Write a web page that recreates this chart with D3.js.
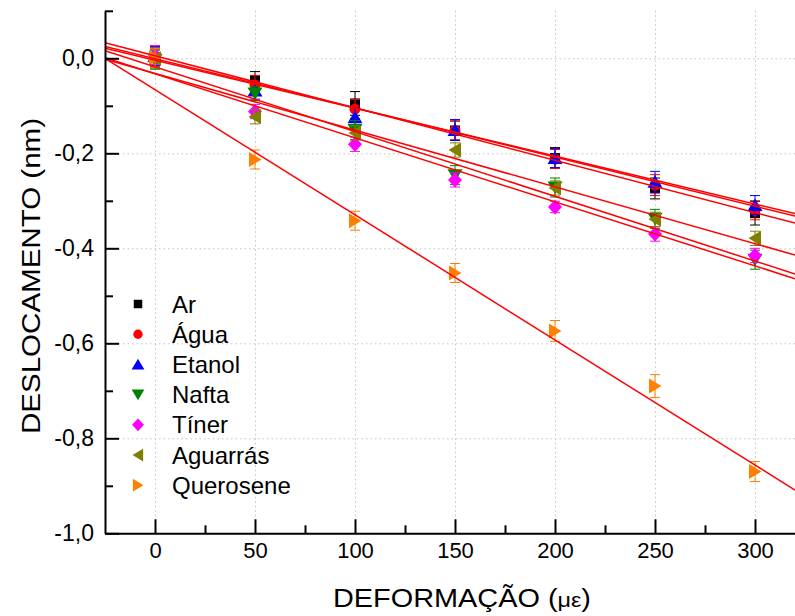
<!DOCTYPE html>
<html>
<head>
<meta charset="utf-8">
<script src="https://cdn.jsdelivr.net/npm/d3@7"></script>
<style>
  html, body { margin: 0; padding: 0; background: #fff; }
  svg text { font-family: "Liberation Sans", Arial, Helvetica, sans-serif; fill: #000; }
</style>
</head>
<body>
<svg id="chart" width="795" height="616"></svg>
<script>
// ---------------- DATA ----------------
const strain = [0, 50, 100, 150, 200, 250, 300];
const seriesNames = ["Ar", "Água", "Etanol", "Nafta", "Tíner", "Aguarrás", "Querosene"];
const seriesColors = ["#000000", "#ff0000", "#0000ff", "#008000", "#ff00ff", "#808000", "#ff8000"];
const seriesSymbols = ["square", "circle", "triUp", "triDown", "diamond", "triLeft", "triRight"];

const ar        = [0.002, -0.046, -0.095, -0.152, -0.210, -0.274, -0.326];
const agua      = [0.000, -0.056, -0.107, -0.152, -0.212, -0.267, -0.320];
const etanol    = [0.005, -0.068, -0.124, -0.151, -0.210, -0.260, -0.309];
const nafta     = [-0.003, -0.074, -0.151, -0.246, -0.272, -0.338, -0.424];
const tiner     = [0.007, -0.112, -0.181, -0.256, -0.313, -0.370, -0.415];
const aguarras  = [-0.001, -0.123, -0.157, -0.193, -0.273, -0.339, -0.379];
const querosene = [0.001, -0.213, -0.342, -0.452, -0.574, -0.690, -0.870];

const arErr        = [0.020, 0.018, 0.025, 0.020, 0.022, 0.022, 0.025];
const aguaErr      = [0.020, 0.020, 0.020, 0.020, 0.020, 0.022, 0.020];
const etanolErr    = [0.020, 0.018, 0.020, 0.022, 0.020, 0.022, 0.020];
const naftaErr     = [0.020, 0.015, 0.020, 0.020, 0.020, 0.020, 0.020];
const tinerErr     = [0.020, 0.015, 0.015, 0.015, 0.012, 0.015, 0.015];
const aguarrasErr  = [0.020, 0.015, 0.015, 0.015, 0.015, 0.015, 0.015];
const queroseneErr = [0.020, 0.020, 0.020, 0.020, 0.022, 0.024, 0.021];

// linear fits (intercept, slope)
const fitIntercept = [0.0055, -0.0009, -0.0042, -0.0181, -0.0327, -0.0319, -0.0659];
const fitSlope     = [-0.0011014, -0.0010348, -0.0010087, -0.0013623, -0.0013478, -0.0011942, -0.002635];

const xMajorTicks = [0, 50, 100, 150, 200, 250, 300];
const xMinorTicks = [25, 75, 125, 175, 225, 275];
const yMajorTicks = [0, -0.2, -0.4, -0.6, -0.8, -1.0];
const yMinorTicks = [0.1, -0.1, -0.3, -0.5, -0.7, -0.9];
const xDomain = [-25, 320];
const yDomain = [-1.0, 0.1];

const seriesValues = [ar, agua, etanol, nafta, tiner, aguarras, querosene];
const seriesErrors = [arErr, aguaErr, etanolErr, naftaErr, tinerErr, aguarrasErr, queroseneErr];

// ---------------- LAYOUT ----------------
const svg = d3.select("#chart");
const plotLeft = 105, plotRight = 795, plotBottom = 533.3, zeroY = 58.3;
const unit = plotBottom - zeroY; // pixels per 1.0
const x = d3.scaleLinear().domain(xDomain).range([plotLeft, plotRight]);
const y = d3.scaleLinear().domain(yDomain).range([plotBottom, zeroY - 0.1 * unit]);
const plotTop = y(yDomain[1]);

svg.append("defs").append("clipPath").attr("id", "clip")
  .append("rect").attr("x", plotLeft).attr("y", plotTop)
  .attr("width", plotRight - plotLeft).attr("height", plotBottom - plotTop);

// grid
const grid = svg.append("g").attr("stroke", "#c4c4c4").attr("stroke-width", 1).attr("stroke-dasharray", "1.5,3");
grid.selectAll("line.vx").data(xMajorTicks).join("line")
  .attr("x1", d => x(d) + 0.5).attr("x2", d => x(d) + 0.5)
  .attr("y1", plotTop).attr("y2", plotBottom);
grid.selectAll("line.hy").data(yMajorTicks.filter(d => d > -1)).join("line")
  .attr("x1", plotLeft).attr("x2", plotRight)
  .attr("y1", d => y(d) + 0.5).attr("y2", d => y(d) + 0.5);

// symbols
function symbolPath(type, s) {
  switch (type) {
    case "square":  return `M${-5*s},${-5*s}H${5*s}V${5*s}H${-5*s}Z`;
    case "circle":  { const r = 5.5*s; return `M${-r},0A${r},${r} 0 1,0 ${r},0A${r},${r} 0 1,0 ${-r},0Z`; }
    case "triUp":   return `M0,${-6.5*s}L${7.5*s},${6*s}L${-7.5*s},${6*s}Z`;
    case "triDown": return `M0,${6.5*s}L${7.5*s},${-6*s}L${-7.5*s},${-6*s}Z`;
    case "diamond": return `M0,${-7.5*s}L${7*s},0L0,${7.5*s}L${-7*s},0Z`;
    case "triLeft": return `M${-6.5*s},0L${6*s},${-7.5*s}L${6*s},${7.5*s}Z`;
    case "triRight":return `M${6.5*s},0L${-6*s},${-7.5*s}L${-6*s},${7.5*s}Z`;
  }
}

// series: error bars + markers
const dataLayer = svg.append("g");
seriesNames.forEach((name, i) => {
  const pts = strain.map((s, j) => ({ s, v: seriesValues[i][j], e: seriesErrors[i][j] }));
  const g = dataLayer.append("g").attr("stroke", seriesColors[i]).attr("fill", seriesColors[i]);
  const eb = g.selectAll("g.eb").data(pts).join("g").attr("stroke-width", 1);
  eb.append("line").attr("x1", d => x(d.s)).attr("x2", d => x(d.s))
    .attr("y1", d => y(d.v + d.e)).attr("y2", d => y(d.v - d.e));
  eb.append("line").attr("x1", d => x(d.s) - 5).attr("x2", d => x(d.s) + 5)
    .attr("y1", d => y(d.v + d.e)).attr("y2", d => y(d.v + d.e));
  eb.append("line").attr("x1", d => x(d.s) - 5).attr("x2", d => x(d.s) + 5)
    .attr("y1", d => y(d.v - d.e)).attr("y2", d => y(d.v - d.e));
  g.selectAll("path.m").data(pts).join("path")
    .attr("stroke", "none")
    .attr("transform", d => `translate(${x(d.s)},${y(d.v)})`)
    .attr("d", symbolPath(seriesSymbols[i], 1));
});

// fit lines
const fitLayer = svg.append("g").attr("clip-path", "url(#clip)");
seriesNames.forEach((name, i) => {
  const f = s => fitIntercept[i] + fitSlope[i] * s;
  fitLayer.append("line")
    .attr("x1", x(xDomain[0])).attr("y1", y(f(xDomain[0])))
    .attr("x2", x(xDomain[1])).attr("y2", y(f(xDomain[1])))
    .attr("stroke", "#ff0000").attr("stroke-width", 1.5);
});

// axes
const fmt = v => v.toFixed(1).replace(".", ",");
const xAxis = svg.append("g").attr("transform", `translate(0,${plotBottom})`)
  .call(d3.axisBottom(x).tickValues(xMajorTicks).tickSize(-14).tickSizeOuter(0).tickPadding(9).tickFormat(d3.format("d")));
svg.append("g").attr("transform", `translate(0,${plotBottom})`)
  .call(d3.axisBottom(x).tickValues(xMinorTicks).tickSize(-8).tickSizeOuter(0).tickFormat(""))
  .select(".domain").remove();
const yAxis = svg.append("g").attr("transform", `translate(${plotLeft},0)`)
  .call(d3.axisLeft(y).tickValues(yMajorTicks).tickSize(-14).tickSizeOuter(0).tickPadding(11).tickFormat(fmt));
svg.append("g").attr("transform", `translate(${plotLeft},0)`)
  .call(d3.axisLeft(y).tickValues(yMinorTicks).tickSize(-8).tickSizeOuter(0).tickFormat(""))
  .select(".domain").remove();

svg.selectAll(".domain").attr("stroke", "#000").attr("stroke-width", 2);
svg.selectAll(".tick line").attr("stroke", "#000").attr("stroke-width", 2);
xAxis.selectAll(".tick text").attr("font-size", 22).attr("font-family", "Liberation Sans, Arial, sans-serif");
yAxis.selectAll(".tick text").attr("font-size", 23).attr("font-family", "Liberation Sans, Arial, sans-serif");

// axis titles
const xt = svg.append("text").attr("x", 462).attr("y", 607).attr("text-anchor", "middle").attr("font-size", 26)
  .attr("textLength", 258).attr("lengthAdjust", "spacingAndGlyphs");
xt.append("tspan").text("DEFORMAÇÃO (");
xt.append("tspan").attr("font-size", 21).text("με");
xt.append("tspan").text(")");

svg.append("text")
  .attr("transform", "translate(40,276) rotate(-90)")
  .attr("text-anchor", "middle").attr("font-size", 26)
  .attr("textLength", 316).attr("lengthAdjust", "spacingAndGlyphs")
  .text("DESLOCAMENTO (nm)");

// legend
const legend = svg.append("g");
seriesNames.forEach((name, i) => {
  const ly = 304 + i * 30.2;
  legend.append("path")
    .attr("transform", `translate(138,${ly})`)
    .attr("d", symbolPath(seriesSymbols[i], 0.85))
    .attr("fill", seriesColors[i]);
  legend.append("text").attr("x", 172).attr("y", ly + 8.5).attr("font-size", 24).text(name);
});
</script>
</body>
</html>
